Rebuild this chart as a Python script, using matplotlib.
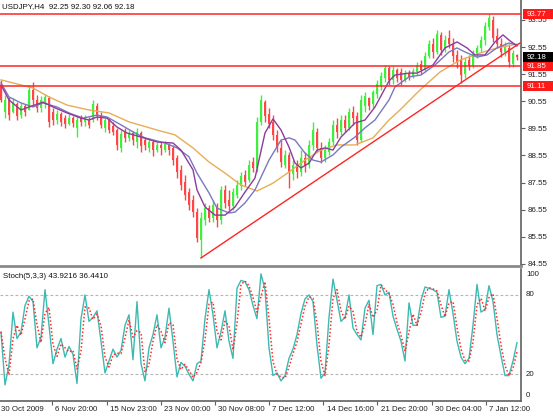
import matplotlib.pyplot as plt
import numpy as np
import pandas as pd
from matplotlib.patches import Rectangle
from matplotlib.transforms import blended_transform_factory

# USDJPY H4 candles (each entry ~ two chart bars)
opens = [91.15, 90.16, 90.60, 90.16, 90.45, 90.04, 90.38, 90.23, 90.97, 90.60,
         90.30, 90.52, 90.67, 90.16, 89.86, 90.08, 89.93, 89.71, 89.93, 89.57,
         89.93, 89.79, 89.86, 89.86, 90.38, 90.01, 89.57, 89.86, 89.64, 89.49,
         88.83, 89.42, 89.20, 89.38, 89.05, 89.38, 89.12, 88.83, 89.05, 88.75,
         88.94, 88.75, 88.94, 88.83, 88.46, 88.02, 87.57, 87.20, 86.91, 86.46,
         85.43, 86.17, 86.61, 86.24, 86.69, 86.17, 87.28, 86.91, 86.69, 87.09,
         87.42, 87.83, 87.65, 88.31, 88.09, 89.79, 90.52, 90.08, 89.79, 89.31,
         88.83, 88.20, 88.57, 87.87, 88.20, 87.94, 88.46, 88.20, 88.94, 89.42,
         88.83, 88.46, 88.68, 89.05, 89.68, 89.42, 89.86, 89.57, 90.16, 90.01,
         89.12, 90.38, 90.67, 90.45, 90.82, 91.11, 91.41, 91.78, 91.34, 91.71,
         91.63, 91.34, 91.59, 91.45, 91.63, 91.93, 91.71, 92.22, 92.66, 92.37,
         93.00, 92.44, 92.89, 92.66, 92.26, 92.07, 91.56, 92.07, 91.85, 92.26,
         92.52, 92.81, 93.29, 93.55, 92.96, 92.66, 92.37, 92.52, 91.93, 92.25]
highs = [91.34, 90.78, 90.71, 90.67, 90.52, 90.49, 90.45, 91.15, 91.26, 90.78,
         90.74, 90.82, 90.74, 90.30, 90.23, 90.16, 90.04, 90.08, 90.01, 90.01,
         90.04, 90.04, 89.97, 90.60, 90.49, 90.16, 89.93, 89.93, 89.79, 89.57,
         89.49, 89.57, 89.49, 89.45, 89.57, 89.45, 89.20, 89.20, 89.12, 89.05,
         89.05, 89.08, 89.01, 88.94, 88.57, 88.20, 87.83, 87.35, 87.09, 86.61,
         86.46, 86.80, 86.72, 86.91, 86.80, 87.42, 87.46, 87.28, 87.35, 87.65,
         87.94, 88.02, 88.38, 88.50, 89.97, 90.78, 90.60, 90.30, 90.04, 89.49,
         89.12, 88.75, 88.68, 88.38, 88.38, 88.75, 88.68, 89.12, 89.79, 89.57,
         89.05, 88.94, 89.20, 89.86, 89.93, 90.04, 90.04, 90.30, 90.38, 90.16,
         90.78, 90.89, 90.71, 90.97, 91.34, 91.63, 91.89, 91.85, 91.85, 91.78,
         91.78, 91.71, 91.71, 91.78, 92.00, 92.07, 92.37, 92.81, 92.89, 93.18,
         93.11, 93.00, 93.18, 92.89, 92.44, 92.26, 92.15, 92.26, 92.44, 92.63,
         92.96, 93.48, 93.77, 93.70, 93.26, 92.89, 92.74, 92.66, 92.44, 92.30]
lows = [90.52, 89.93, 89.86, 90.12, 89.86, 89.93, 90.01, 90.23, 90.41, 90.16,
        90.16, 90.30, 89.60, 89.68, 89.71, 89.64, 89.57, 89.68, 89.60, 89.23,
        89.64, 89.64, 89.57, 89.79, 89.86, 89.57, 89.42, 89.38, 89.31, 88.75,
        88.68, 89.05, 89.08, 88.94, 88.83, 88.68, 88.75, 88.68, 88.53, 88.68,
        88.57, 88.68, 88.57, 88.20, 87.72, 87.28, 86.91, 86.54, 86.28, 85.36,
        84.77, 85.99, 86.10, 86.10, 85.91, 86.02, 86.61, 86.54, 86.54, 86.98,
        87.28, 87.42, 87.57, 87.94, 87.94, 89.68, 89.79, 89.57, 89.12, 88.68,
        88.13, 88.09, 87.35, 87.65, 87.72, 87.79, 87.94, 88.09, 88.75, 88.68,
        88.27, 88.31, 88.57, 88.94, 89.20, 89.31, 89.42, 89.49, 89.68, 88.94,
        89.05, 90.16, 90.23, 90.30, 90.67, 90.97, 91.26, 91.15, 91.19, 91.26,
        91.15, 91.26, 91.34, 91.41, 91.52, 91.56, 91.63, 92.15, 92.15, 92.30,
        92.26, 92.37, 92.52, 92.00, 91.78, 91.23, 91.41, 91.71, 91.78, 92.15,
        92.37, 92.63, 93.18, 92.74, 92.52, 92.18, 92.22, 91.82, 91.82, 92.06]
closes = [90.60, 90.60, 90.04, 90.52, 90.01, 90.38, 90.16, 90.97, 90.60, 90.30,
          90.60, 90.71, 89.79, 89.86, 90.08, 89.79, 89.71, 89.93, 89.75, 89.86,
          89.79, 89.93, 89.68, 90.45, 90.01, 89.68, 89.86, 89.49, 89.42, 88.94,
          89.34, 89.20, 89.38, 89.12, 89.42, 88.90, 88.94, 89.05, 88.75, 88.94,
          88.83, 88.97, 88.75, 88.38, 87.94, 87.46, 87.09, 86.72, 86.46, 85.51,
          86.24, 86.61, 86.24, 86.72, 86.17, 87.28, 86.80, 86.69, 87.20, 87.46,
          87.79, 87.57, 88.20, 88.09, 89.79, 90.60, 90.01, 89.71, 89.31, 88.83,
          88.31, 88.57, 87.94, 88.20, 87.94, 88.46, 88.16, 88.94, 89.49, 88.83,
          88.46, 88.75, 89.05, 89.68, 89.42, 89.86, 89.57, 90.16, 89.93, 89.12,
          90.60, 90.74, 90.38, 90.89, 91.19, 91.48, 91.78, 91.34, 91.71, 91.41,
          91.34, 91.59, 91.45, 91.67, 91.89, 91.71, 92.22, 92.66, 92.37, 93.03,
          92.44, 92.81, 92.66, 92.22, 92.00, 91.52, 92.00, 91.85, 92.30, 92.52,
          92.81, 93.33, 93.62, 92.89, 92.66, 92.37, 92.55, 92.00, 92.33, 92.18]

# moving averages (bar index, price)
fast_idx = [0, 2, 5, 7, 10.5, 13, 16.5, 20, 22, 24, 26.5, 29, 31.5, 35, 39, 43, 45, 48, 49, 51,
            53.5, 56, 58.5, 61, 63.5, 66, 68, 70, 72, 73.5, 75, 77, 79, 81, 83, 85, 88.5, 91,
            93.5, 97, 98.5, 102, 104, 108, 111, 114, 116.5, 118.5, 121, 123.5, 125.5, 127, 129]
fast_ma = [91.15, 90.60, 90.23, 90.34, 90.52, 90.34, 90.12, 89.93, 89.86, 89.97, 89.93, 89.60,
           89.38, 89.23, 89.05, 89.01, 88.75, 88.02, 87.28, 86.65, 86.35, 86.35, 86.65, 87.20,
           87.72, 89.38, 89.90, 89.49, 88.86, 88.27, 88.09, 88.27, 88.75, 88.83, 88.75, 89.23,
           89.75, 89.86, 90.34, 91.30, 91.52, 91.59, 91.59, 91.89, 92.52, 92.74, 92.52, 92.26,
           92.26, 92.74, 93.00, 92.81, 92.59]
mid_idx = [0, 2, 5, 8, 10.5, 14, 17, 20.5, 24, 26.5, 30, 33.5, 36, 41, 44, 47, 49, 52, 54, 57,
           58.5, 61, 63.5, 67, 70, 72, 73.5, 76, 78, 80, 83, 85, 88.5, 91, 93.5, 97, 98.5, 102,
           105, 108.5, 112, 114, 116, 119, 121.5, 124, 127, 129]
mid_ma = [91.23, 90.71, 90.49, 90.34, 90.49, 90.34, 90.12, 89.93, 90.04, 89.97, 89.68, 89.38,
          89.20, 89.01, 88.83, 88.50, 87.90, 87.17, 86.61, 86.43, 86.46, 86.80, 87.28, 88.38,
          89.12, 89.20, 89.12, 88.64, 88.38, 88.31, 88.57, 88.86, 89.23, 89.57, 89.86, 90.60,
          91.08, 91.45, 91.52, 91.89, 92.37, 92.52, 92.37, 92.18, 92.26, 92.52, 92.70, 92.63]
slow_idx = [0, 8, 12, 16.5, 22, 27, 32, 39, 43.5, 48, 52, 56, 60, 64, 68, 72, 76, 80, 84, 88.5,
            93, 97, 99.75, 104.75, 109.75, 114.75, 119.75, 124, 129]
slow_ma = [91.34, 91.04, 90.71, 90.41, 90.23, 90.12, 89.79, 89.49, 89.31, 88.83, 88.31, 87.90,
           87.46, 87.24, 87.53, 87.94, 88.38, 88.75, 88.94, 88.94, 89.20, 89.86, 90.23, 90.97,
           91.63, 92.07, 92.33, 92.52, 92.66]

# drawn objects
hlines = [93.77, 91.85, 91.11]
trend_idx = [50, 129.75]
trend_price = [84.77, 92.70]
last_price = 92.18
price_ticks = [84.55, 85.55, 86.55, 87.55, 88.55, 89.55, 90.55, 91.55, 92.55, 93.55]

# Stochastic %K (5,3,3)
stoch_k = [52, 12, 27, 67, 47, 52, 72, 79, 75, 40,
           48, 84, 57, 28, 39, 47, 33, 41, 35, 13,
           62, 80, 60, 63, 68, 45, 21, 30, 39, 33,
           38, 57, 65, 31, 75, 28, 15, 40, 50, 65,
           40, 48, 70, 45, 18, 29, 26, 20, 15, 28,
           30, 62, 84, 65, 40, 52, 68, 45, 32, 85,
           91, 90, 84, 72, 62, 96, 84, 40, 19, 21,
           15, 19, 32, 39, 50, 66, 77, 80, 75, 42,
           17, 21, 63, 92, 76, 60, 63, 80, 55, 50,
           46, 70, 76, 50, 87, 88, 80, 82, 64, 54,
           45, 30, 74, 57, 57, 76, 86, 85, 84, 82,
           63, 64, 84, 66, 45, 33, 28, 32, 57, 88,
           67, 69, 87, 75, 50, 34, 19, 19, 30, 43.9]

date_pos = [-0.7, 12.8, 26.4, 39.9, 53.5, 67.0, 80.6, 94.1, 107.7, 121.2]
date_labels = ["30 Oct 2009", "6 Nov 20:00", "15 Nov 23:00", "23 Nov 00:00", "30 Nov 08:00",
               "7 Dec 12:00", "14 Dec 16:00", "21 Dec 20:00", "30 Dec 04:00", "7 Jan 12:00"]

BULL = '#3ef03e'
BEAR = '#ff4545'
LINE_RED = '#ff2424'
FS = 5.7


def main():
    plt.rcParams['font.family'] = ['Liberation Sans', 'DejaVu Sans']

    fig = plt.figure(figsize=(5.53, 4.16), dpi=100)
    W, H = 553, 416
    ax = fig.add_axes([0, 150 / H, 521 / W, 266 / H])
    ax2 = fig.add_axes([0, 15.3 / H, 521 / W, 132.2 / H])

    o = np.array(opens)
    h = np.array(highs)
    l = np.array(lows)
    c = np.array(closes)
    x = np.arange(len(c))
    col = np.where(c >= o, BULL, BEAR)

    # candles
    ax.vlines(x, l, h, colors=col, lw=1.0, zorder=2)
    body = np.maximum(np.abs(c - o), 0.03)
    ax.bar(x, body, bottom=np.minimum(o, c), width=0.55, color=col, linewidth=0, zorder=2)

    # moving averages
    ax.plot(slow_idx, slow_ma, color='#e6ad55', lw=1.0, zorder=3)
    ax.plot(mid_idx, mid_ma, color='#7a78c0', lw=1.0, zorder=3)
    ax.plot(fast_idx, fast_ma, color='#8c3c9c', lw=1.0, zorder=3)

    # objects
    for lvl in hlines:
        ax.axhline(lvl, color=LINE_RED, lw=1.1, zorder=4)
    ax.plot(trend_idx, trend_price, color=LINE_RED, lw=1.0, zorder=4)

    ax.set_xlim(-0.25, 130)
    ax.set_ylim(84.472, 94.288)
    ax.set_xticks([])
    ax.yaxis.tick_right()
    ax.set_yticks(price_ticks)
    ax.set_yticklabels([f'{v:.2f}' for v in price_ticks])
    ax.tick_params(axis='y', length=3, width=0.8, pad=2, labelsize=FS,
                   colors='#606060', labelcolor='#202020')
    for s in ['left', 'top']:
        ax.spines[s].set_visible(False)
    ax.spines['right'].set_color('#606060')
    ax.spines['right'].set_linewidth(1.2)
    ax.spines['bottom'].set_color('#8a8a8a')
    ax.spines['bottom'].set_linewidth(2.0)

    # price boxes on the axis
    tr = blended_transform_factory(fig.transFigure, ax.transData)
    boxes = [(v, '#ff1a1a') for v in hlines] + [(last_price, '#000000')]
    for v, fc in boxes:
        ax.add_patch(Rectangle((523 / W, v - 0.18), 1 - 523 / W, 0.36, transform=tr,
                               facecolor=fc, edgecolor='none', clip_on=False, zorder=5))
        ax.text(527 / W, v, f'{v:.2f}', transform=tr, color='white', fontsize=FS,
                ha='left', va='center', zorder=6, clip_on=False)

    fig.text(2 / W, 1 - 6.5 / H, "USDJPY,H4  92.25 92.30 92.06 92.18",
             fontsize=FS, ha='left', va='center', color='#101010')

    # stochastic
    k = pd.Series(stoch_k, dtype=float)
    d = k.rolling(2, min_periods=1).mean()
    for lvl in [20, 80]:
        ax2.axhline(lvl, color='#b4b4b4', lw=0.8, ls=(0, (2.5, 2)), zorder=1)
    ax2.plot(x, k, color='#3cbab2', lw=1.0, zorder=3)
    ax2.plot(x, d, color='#ff2a2a', lw=1.1, ls=(0, (1, 1.4)), zorder=4)
    ax2.set_xlim(-0.25, 130)
    ax2.set_ylim(0, 100)
    ax2.set_yticks([])
    for s in ['left', 'top']:
        ax2.spines[s].set_visible(False)
    ax2.spines['right'].set_color('#606060')
    ax2.spines['right'].set_linewidth(1.2)
    ax2.spines['bottom'].set_color('#606060')
    ax2.spines['bottom'].set_linewidth(1.2)

    ytr = blended_transform_factory(ax2.transAxes, ax2.transData)
    for val, txt in [(95.2, '100'), (80, '80'), (20, '20'), (3.8, '0')]:
        ax2.text(1 + 5 / 521, val, txt, transform=ytr, fontsize=FS, ha='left',
                 va='center', color='#202020', clip_on=False)

    ax2.set_xticks([p for p in date_pos if p > -0.25])
    ax2.tick_params(axis='x', length=3, width=0.8, color='#606060', labelbottom=False)
    xtr = blended_transform_factory(ax2.transData, ax2.transAxes)
    for p, lbl in zip(date_pos, date_labels):
        ax2.text(p + 0.8, -0.068, lbl, transform=xtr, fontsize=FS, ha='left',
                 va='center', color='#202020', clip_on=False)

    fig.text(3 / W, 1 - 277 / H, "Stoch(5,3,3) 43.9216 36.4410",
             fontsize=FS, ha='left', va='center', color='#101010')

    fig.savefig("out.png", dpi=100)


if __name__ == "__main__":
    main()
